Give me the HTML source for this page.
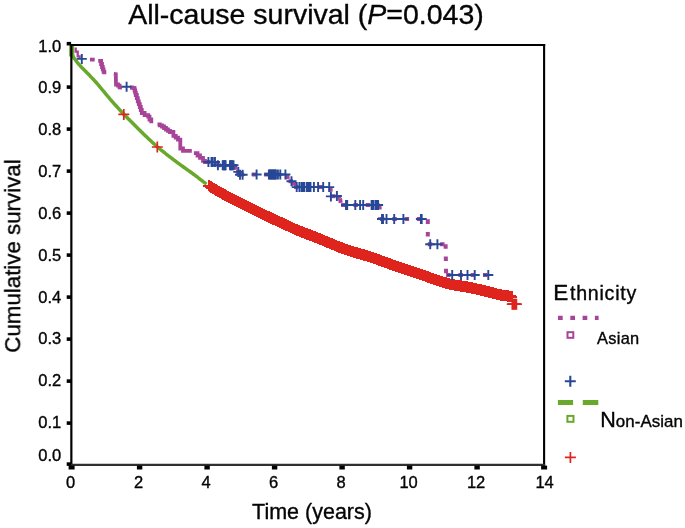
<!DOCTYPE html>
<html><head><meta charset="utf-8"><title>All-cause survival</title>
<style>
html,body{margin:0;padding:0;background:#fff}
svg{display:block}
text{font-family:"Liberation Sans",Arial,Helvetica,sans-serif;fill:#050505;stroke:#050505;stroke-width:.36px;will-change:transform;filter:grayscale(1)}
</style></head><body>
<svg width="685" height="528" viewBox="0 0 685 528">
<rect width="685" height="528" fill="#fff"/>
<defs>
<g id="pb"><path d="M-5 0H5M0 -5V5" stroke="#264896" stroke-width="1.9" fill="none"/></g>
<g id="pr"><path d="M-5.5 0H5.5M0 -5.5V5.5" stroke="#df241e" stroke-width="1.7" fill="none"/></g>
<g id="prc"><path d="M-5.5 0H5.5M0 -5.6V5.6" stroke="#df241e" stroke-width="1.8" fill="none" shape-rendering="crispEdges"/></g>
</defs>
<text x="306" y="24.2" font-size="28.5" text-anchor="middle">All-cause survival (<tspan font-style="italic">P</tspan>=0.043)</text>
<text transform="translate(20.2,256) rotate(-90)" font-size="22.3" text-anchor="middle">Cumulative survival</text>
<text x="312" y="519.3" font-size="21.5" text-anchor="middle">Time (years)</text>
<polyline fill="none" stroke="#68a82a" stroke-width="3.5" stroke-linejoin="round" points="71.5,45.0 72.5,55.0 73.5,57.2 74.5,58.7 75.5,60.0 76.5,61.4 77.5,62.7 78.5,63.9 79.5,65.1 80.5,66.1 81.5,67.2 82.5,68.2 83.5,69.2 84.5,70.2 85.5,71.2 86.5,72.3 87.5,73.3 88.5,74.3 89.5,75.3 90.5,76.4 91.5,77.4 92.5,78.5 93.5,79.5 94.5,80.6 95.5,81.7 96.5,82.8 97.5,84.0 98.5,85.2 99.5,86.4 100.5,87.6 101.5,88.8 102.5,90.0 103.5,91.2 104.5,92.4 105.5,93.6 106.5,94.8 107.5,96.0 108.5,97.2 109.5,98.4 110.5,99.6 111.5,100.7 112.5,101.9 113.5,103.0 114.5,104.1 115.5,105.2 116.5,106.3 117.5,107.4 118.5,108.5 119.5,109.6 120.5,110.7 121.5,111.8 122.5,112.8 123.5,113.9 124.5,114.9 125.5,116.0 126.5,117.0 127.5,118.0 128.5,119.1 129.5,120.1 130.5,121.1 131.5,122.1 132.5,123.1 133.5,124.1 134.5,125.1 135.5,126.1 136.5,127.1 137.5,128.1 138.5,129.0 139.5,130.0 140.5,131.0 141.5,132.0 142.5,132.9 143.5,133.9 144.5,134.9 145.5,135.9 146.5,136.8 147.5,137.8 148.5,138.8 149.5,139.7 150.5,140.6 151.5,141.6 152.5,142.5 153.5,143.4 154.5,144.3 155.5,145.2 156.5,146.1 157.5,147.0 158.5,147.8 159.5,148.7 160.5,149.5 161.5,150.3 162.5,151.1 163.5,151.9 164.5,152.7 165.5,153.5 166.5,154.3 167.5,155.1 168.5,155.9 169.5,156.6 170.5,157.4 171.5,158.1 172.5,158.9 173.5,159.7 174.5,160.4 175.5,161.2 176.5,161.9 177.5,162.7 178.5,163.4 179.5,164.1 180.5,164.9 181.5,165.6 182.5,166.3 183.5,167.0 184.5,167.7 185.5,168.4 186.5,169.2 187.5,169.9 188.5,170.6 189.5,171.3 190.5,172.0 191.5,172.7 192.5,173.5 193.5,174.2 194.5,174.9 195.5,175.7 196.5,176.4 197.5,177.2 198.5,178.0 199.5,178.8 200.5,179.6 201.5,180.3 202.5,181.1 203.5,181.9 204.5,182.6 205.5,183.4 206.5,184.1"/>
<path d="M71.7 45.5V56.5" stroke="#68a82a" stroke-width="5" fill="none"/>
<path d="M75.7 47.6V51.6H77.7V56.4H79.6V58.8" fill="none" stroke="#a74499" stroke-width="2.3"/>
<polyline fill="none" stroke="#a74499" stroke-width="3.8" stroke-linejoin="miter" stroke-linecap="butt" points="90.0,59.6 94.7,59.6"/>
<polyline fill="none" stroke="#a74499" stroke-width="3.8" stroke-linejoin="miter" stroke-linecap="butt" points="98.2,60.9 100.2,60.9 101.1,60.9 101.1,64.0 102.0,64.0 102.0,67.0 102.8,67.0 102.8,69.4 103.6,69.4 103.6,71.9 104.4,71.9 104.4,74.3"/>
<polyline fill="none" stroke="#a74499" stroke-width="3.8" stroke-linejoin="miter" stroke-linecap="butt" points="113.8,73.9 115.8,74.2 116.0,84.5 118.0,84.5 118.0,85.6 119.6,85.6 119.6,87.4 122.0,87.6"/>
<polyline fill="none" stroke="#a74499" stroke-width="3.8" stroke-linejoin="miter" stroke-linecap="butt" points="130.0,87.4 132.0,87.4 132.0,87.8 134.0,87.8 134.0,88.2 134.6,88.2 134.6,90.5 135.2,90.5 135.2,92.7 135.8,92.7 135.8,95.0 136.8,95.0 136.8,98.2 137.8,98.2 137.8,101.3 138.8,101.3 138.8,104.2 139.8,104.2 139.8,107.0 140.8,107.0 140.8,110.0 141.8,110.0 141.8,113.0 144.6,113.0 144.6,115.2 148.2,115.2 148.2,116.6 149.5,116.6 149.5,119.5 151.3,119.5 151.3,123.2"/>
<polyline fill="none" stroke="#a74499" stroke-width="3.8" stroke-linejoin="miter" stroke-linecap="butt" points="157.5,124.3 159.8,124.3 159.8,125.4 162.0,125.4 162.0,126.5 164.0,126.5 164.0,128.0 166.0,128.0 166.0,129.5 168.0,129.5 168.0,130.8 170.0,130.8 170.0,132.0 173.4,132.0 173.4,135.8 175.7,135.8 175.7,137.7 178.0,137.7 178.0,139.6 180.3,139.6 180.3,141.5 180.3,148.5 183.0,148.5 183.0,150.8 191.8,150.8"/>
<polyline fill="none" stroke="#a74499" stroke-width="3.8" stroke-linejoin="miter" stroke-linecap="butt" points="193.9,153.2 197.5,153.2 197.5,155.5 200.0,155.5 200.0,157.8 203.0,157.8 203.0,160.8 205.0,160.8 205.0,162.0 207.0,162.0"/>
<path d="M206.0 162.0L216.5 162.0" stroke="#a74499" stroke-width="4" stroke-dasharray="4.5 7.8" fill="none"/>
<path d="M216.5 162.0L216.5 165.3" stroke="#a74499" stroke-width="4" stroke-dasharray="4.5 7.8" fill="none"/>
<path d="M216.5 165.3L235.0 165.3" stroke="#a74499" stroke-width="4" stroke-dasharray="4.5 7.8" fill="none"/>
<path d="M235.0 165.3L236.0 171.9" stroke="#a74499" stroke-width="4" stroke-dasharray="4.5 7.8" fill="none"/>
<path d="M236.0 171.9L239.0 171.9" stroke="#a74499" stroke-width="4" stroke-dasharray="4.5 7.8" fill="none"/>
<path d="M239.0 171.9L239.5 174.6" stroke="#a74499" stroke-width="4" stroke-dasharray="4.5 7.8" fill="none"/>
<path d="M239.5 174.6L287.0 174.6" stroke="#a74499" stroke-width="4" stroke-dasharray="4.5 7.8" fill="none"/>
<path d="M287.0 174.6L288.5 181.2" stroke="#a74499" stroke-width="4" stroke-dasharray="4.5 7.8" fill="none"/>
<path d="M288.5 181.2L294.0 181.2" stroke="#a74499" stroke-width="4" stroke-dasharray="4.5 7.8" fill="none"/>
<path d="M294.0 181.2L294.0 187.1" stroke="#a74499" stroke-width="4" stroke-dasharray="4.5 7.8" fill="none"/>
<path d="M294.0 187.1L330.5 187.1" stroke="#a74499" stroke-width="4" stroke-dasharray="4.5 7.8" fill="none"/>
<path d="M330.5 187.1L331.0 196.2" stroke="#a74499" stroke-width="4" stroke-dasharray="4.5 7.8" fill="none"/>
<path d="M331.0 196.2L338.5 196.2" stroke="#a74499" stroke-width="4" stroke-dasharray="4.5 7.8" fill="none"/>
<path d="M338.5 196.2L340.0 198.4" stroke="#a74499" stroke-width="4" stroke-dasharray="4.5 7.8" fill="none"/>
<path d="M340.0 198.4L341.1 205.0" stroke="#a74499" stroke-width="4" stroke-dasharray="4.5 7.8" fill="none"/>
<path d="M341.1 205.0L379.5 205.0" stroke="#a74499" stroke-width="4" stroke-dasharray="4.5 7.8" fill="none"/>
<path d="M379.5 205.0L380.0 219.0" stroke="#a74499" stroke-width="4" stroke-dasharray="4.5 7.8" fill="none"/>
<path d="M380.0 219.0L427.8 219.0" stroke="#a74499" stroke-width="4" stroke-dasharray="4.5 7.8" fill="none"/>
<path d="M427.8 219.0L427.8 219.6" stroke="#a74499" stroke-width="4" stroke-dasharray="4.5 7.8" fill="none"/>
<path d="M427.8 219.6L427.8 244.2" stroke="#a74499" stroke-width="4" stroke-dasharray="4.5 7.8" fill="none"/>
<path d="M427.8 244.2L445.6 244.2" stroke="#a74499" stroke-width="4" stroke-dasharray="4.5 7.8" fill="none"/>
<path d="M445.6 244.2L446.1 275.0" stroke="#a74499" stroke-width="4" stroke-dasharray="4.5 7.8" fill="none"/>
<path d="M446.1 275.0L489.0 275.0" stroke="#a74499" stroke-width="4" stroke-dasharray="4.5 7.8" fill="none"/>
<use href="#prc" x="208.8" y="185.7"/><use href="#prc" x="209.8" y="186.4"/><use href="#prc" x="210.8" y="187.0"/><use href="#prc" x="211.8" y="187.6"/><use href="#prc" x="212.8" y="188.2"/><use href="#prc" x="213.8" y="188.8"/><use href="#prc" x="214.8" y="189.4"/><use href="#prc" x="215.8" y="190.0"/><use href="#prc" x="216.8" y="190.6"/><use href="#prc" x="217.8" y="191.1"/><use href="#prc" x="218.8" y="191.7"/><use href="#prc" x="219.8" y="192.3"/><use href="#prc" x="220.8" y="192.8"/><use href="#prc" x="221.8" y="193.4"/><use href="#prc" x="222.8" y="193.9"/><use href="#prc" x="223.8" y="194.5"/><use href="#prc" x="224.8" y="195.0"/><use href="#prc" x="225.8" y="195.5"/><use href="#prc" x="226.8" y="196.1"/><use href="#prc" x="227.8" y="196.6"/><use href="#prc" x="228.8" y="197.1"/><use href="#prc" x="229.8" y="197.7"/><use href="#prc" x="230.8" y="198.2"/><use href="#prc" x="231.8" y="198.7"/><use href="#prc" x="232.8" y="199.2"/><use href="#prc" x="233.8" y="199.7"/><use href="#prc" x="234.8" y="200.2"/><use href="#prc" x="235.8" y="200.7"/><use href="#prc" x="236.8" y="201.2"/><use href="#prc" x="237.8" y="201.7"/><use href="#prc" x="238.8" y="202.2"/><use href="#prc" x="239.8" y="202.7"/><use href="#prc" x="240.8" y="203.2"/><use href="#prc" x="241.8" y="203.7"/><use href="#prc" x="242.8" y="204.2"/><use href="#prc" x="243.8" y="204.7"/><use href="#prc" x="244.8" y="205.2"/><use href="#prc" x="245.8" y="205.7"/><use href="#prc" x="246.8" y="206.2"/><use href="#prc" x="247.8" y="206.7"/><use href="#prc" x="248.8" y="207.2"/><use href="#prc" x="249.8" y="207.7"/><use href="#prc" x="250.8" y="208.2"/><use href="#prc" x="251.8" y="208.7"/><use href="#prc" x="252.8" y="209.2"/><use href="#prc" x="253.8" y="209.7"/><use href="#prc" x="254.8" y="210.2"/><use href="#prc" x="255.8" y="210.7"/><use href="#prc" x="256.8" y="211.2"/><use href="#prc" x="257.8" y="211.7"/><use href="#prc" x="258.8" y="212.2"/><use href="#prc" x="259.8" y="212.7"/><use href="#prc" x="260.8" y="213.2"/><use href="#prc" x="261.8" y="213.7"/><use href="#prc" x="262.8" y="214.1"/><use href="#prc" x="263.8" y="214.6"/><use href="#prc" x="264.8" y="215.1"/><use href="#prc" x="265.8" y="215.6"/><use href="#prc" x="266.8" y="216.1"/><use href="#prc" x="267.8" y="216.5"/><use href="#prc" x="268.8" y="217.0"/><use href="#prc" x="269.8" y="217.5"/><use href="#prc" x="270.8" y="217.9"/><use href="#prc" x="271.8" y="218.4"/><use href="#prc" x="272.8" y="218.9"/><use href="#prc" x="273.8" y="219.3"/><use href="#prc" x="274.8" y="219.8"/><use href="#prc" x="275.8" y="220.3"/><use href="#prc" x="276.8" y="220.7"/><use href="#prc" x="277.8" y="221.2"/><use href="#prc" x="278.8" y="221.6"/><use href="#prc" x="279.8" y="222.1"/><use href="#prc" x="280.8" y="222.6"/><use href="#prc" x="281.8" y="223.0"/><use href="#prc" x="282.8" y="223.5"/><use href="#prc" x="283.8" y="224.0"/><use href="#prc" x="284.8" y="224.4"/><use href="#prc" x="285.8" y="224.9"/><use href="#prc" x="286.8" y="225.4"/><use href="#prc" x="287.8" y="225.8"/><use href="#prc" x="288.8" y="226.3"/><use href="#prc" x="289.8" y="226.8"/><use href="#prc" x="290.8" y="227.2"/><use href="#prc" x="291.8" y="227.7"/><use href="#prc" x="292.8" y="228.2"/><use href="#prc" x="293.8" y="228.6"/><use href="#prc" x="294.8" y="229.1"/><use href="#prc" x="295.8" y="229.5"/><use href="#prc" x="296.8" y="229.9"/><use href="#prc" x="297.8" y="230.4"/><use href="#prc" x="298.8" y="230.8"/><use href="#prc" x="299.8" y="231.2"/><use href="#prc" x="300.8" y="231.6"/><use href="#prc" x="301.8" y="232.0"/><use href="#prc" x="302.8" y="232.4"/><use href="#prc" x="303.8" y="232.8"/><use href="#prc" x="304.8" y="233.2"/><use href="#prc" x="305.8" y="233.5"/><use href="#prc" x="306.8" y="233.9"/><use href="#prc" x="307.8" y="234.3"/><use href="#prc" x="308.8" y="234.7"/><use href="#prc" x="309.8" y="235.0"/><use href="#prc" x="310.8" y="235.4"/><use href="#prc" x="311.8" y="235.8"/><use href="#prc" x="312.8" y="236.1"/><use href="#prc" x="313.8" y="236.5"/><use href="#prc" x="314.8" y="236.9"/><use href="#prc" x="315.8" y="237.3"/><use href="#prc" x="316.8" y="237.7"/><use href="#prc" x="317.8" y="238.1"/><use href="#prc" x="318.8" y="238.6"/><use href="#prc" x="319.8" y="239.0"/><use href="#prc" x="320.8" y="239.4"/><use href="#prc" x="321.8" y="239.8"/><use href="#prc" x="322.8" y="240.3"/><use href="#prc" x="323.8" y="240.7"/><use href="#prc" x="324.8" y="241.1"/><use href="#prc" x="325.8" y="241.6"/><use href="#prc" x="326.8" y="242.0"/><use href="#prc" x="327.8" y="242.4"/><use href="#prc" x="328.8" y="242.8"/><use href="#prc" x="329.8" y="243.2"/><use href="#prc" x="330.8" y="243.6"/><use href="#prc" x="331.8" y="244.0"/><use href="#prc" x="332.8" y="244.4"/><use href="#prc" x="333.8" y="244.8"/><use href="#prc" x="334.8" y="245.2"/><use href="#prc" x="335.8" y="245.6"/><use href="#prc" x="336.8" y="246.1"/><use href="#prc" x="337.8" y="246.5"/><use href="#prc" x="338.8" y="246.9"/><use href="#prc" x="339.8" y="247.3"/><use href="#prc" x="340.8" y="247.6"/><use href="#prc" x="341.8" y="248.0"/><use href="#prc" x="342.8" y="248.4"/><use href="#prc" x="343.8" y="248.8"/><use href="#prc" x="344.8" y="249.2"/><use href="#prc" x="345.8" y="249.5"/><use href="#prc" x="346.8" y="249.9"/><use href="#prc" x="347.8" y="250.3"/><use href="#prc" x="348.8" y="250.6"/><use href="#prc" x="349.8" y="250.9"/><use href="#prc" x="350.8" y="251.3"/><use href="#prc" x="351.8" y="251.6"/><use href="#prc" x="352.8" y="251.9"/><use href="#prc" x="353.8" y="252.2"/><use href="#prc" x="354.8" y="252.5"/><use href="#prc" x="355.8" y="252.8"/><use href="#prc" x="356.8" y="253.0"/><use href="#prc" x="357.8" y="253.3"/><use href="#prc" x="358.8" y="253.6"/><use href="#prc" x="359.8" y="253.9"/><use href="#prc" x="360.8" y="254.1"/><use href="#prc" x="361.8" y="254.4"/><use href="#prc" x="362.8" y="254.7"/><use href="#prc" x="363.8" y="255.0"/><use href="#prc" x="364.8" y="255.2"/><use href="#prc" x="365.8" y="255.5"/><use href="#prc" x="366.8" y="255.8"/><use href="#prc" x="367.8" y="256.1"/><use href="#prc" x="368.8" y="256.4"/><use href="#prc" x="369.8" y="256.7"/><use href="#prc" x="370.8" y="257.1"/><use href="#prc" x="371.8" y="257.4"/><use href="#prc" x="372.8" y="257.8"/><use href="#prc" x="373.8" y="258.1"/><use href="#prc" x="374.8" y="258.5"/><use href="#prc" x="375.8" y="258.9"/><use href="#prc" x="376.8" y="259.2"/><use href="#prc" x="377.8" y="259.6"/><use href="#prc" x="378.8" y="260.0"/><use href="#prc" x="379.8" y="260.3"/><use href="#prc" x="380.8" y="260.7"/><use href="#prc" x="381.8" y="261.1"/><use href="#prc" x="382.8" y="261.4"/><use href="#prc" x="383.8" y="261.8"/><use href="#prc" x="384.8" y="262.1"/><use href="#prc" x="385.8" y="262.5"/><use href="#prc" x="386.8" y="262.9"/><use href="#prc" x="387.8" y="263.2"/><use href="#prc" x="388.8" y="263.6"/><use href="#prc" x="389.8" y="264.0"/><use href="#prc" x="390.8" y="264.3"/><use href="#prc" x="391.8" y="264.7"/><use href="#prc" x="392.8" y="265.1"/><use href="#prc" x="393.8" y="265.4"/><use href="#prc" x="394.8" y="265.8"/><use href="#prc" x="395.8" y="266.1"/><use href="#prc" x="396.8" y="266.5"/><use href="#prc" x="397.8" y="266.8"/><use href="#prc" x="398.8" y="267.2"/><use href="#prc" x="399.8" y="267.5"/><use href="#prc" x="400.8" y="267.9"/><use href="#prc" x="401.8" y="268.2"/><use href="#prc" x="402.8" y="268.5"/><use href="#prc" x="403.8" y="268.9"/><use href="#prc" x="404.8" y="269.2"/><use href="#prc" x="405.8" y="269.5"/><use href="#prc" x="406.8" y="269.9"/><use href="#prc" x="407.8" y="270.2"/><use href="#prc" x="408.8" y="270.5"/><use href="#prc" x="409.8" y="270.8"/><use href="#prc" x="410.8" y="271.2"/><use href="#prc" x="411.8" y="271.5"/><use href="#prc" x="412.8" y="271.8"/><use href="#prc" x="413.8" y="272.1"/><use href="#prc" x="414.8" y="272.5"/><use href="#prc" x="415.8" y="272.8"/><use href="#prc" x="416.8" y="273.1"/><use href="#prc" x="417.8" y="273.5"/><use href="#prc" x="418.8" y="273.8"/><use href="#prc" x="419.8" y="274.1"/><use href="#prc" x="420.8" y="274.5"/><use href="#prc" x="421.8" y="274.8"/><use href="#prc" x="422.8" y="275.2"/><use href="#prc" x="423.8" y="275.5"/><use href="#prc" x="424.8" y="275.9"/><use href="#prc" x="425.8" y="276.3"/><use href="#prc" x="426.8" y="276.6"/><use href="#prc" x="427.8" y="277.0"/><use href="#prc" x="428.8" y="277.3"/><use href="#prc" x="429.8" y="277.7"/><use href="#prc" x="430.8" y="278.1"/><use href="#prc" x="431.8" y="278.4"/><use href="#prc" x="432.8" y="278.8"/><use href="#prc" x="433.8" y="279.1"/><use href="#prc" x="434.8" y="279.4"/><use href="#prc" x="435.8" y="279.8"/><use href="#prc" x="436.8" y="280.1"/><use href="#prc" x="437.8" y="280.4"/><use href="#prc" x="438.8" y="280.8"/><use href="#prc" x="439.8" y="281.1"/><use href="#prc" x="440.8" y="281.4"/><use href="#prc" x="441.8" y="281.8"/><use href="#prc" x="442.8" y="282.1"/><use href="#prc" x="443.8" y="282.4"/><use href="#prc" x="444.8" y="282.7"/><use href="#prc" x="445.8" y="283.0"/><use href="#prc" x="446.8" y="283.3"/><use href="#prc" x="447.8" y="283.6"/><use href="#prc" x="448.8" y="283.8"/><use href="#prc" x="449.8" y="284.1"/><use href="#prc" x="450.8" y="284.3"/><use href="#prc" x="451.8" y="284.5"/><use href="#prc" x="452.8" y="284.7"/><use href="#prc" x="453.8" y="284.9"/><use href="#prc" x="454.8" y="285.1"/><use href="#prc" x="455.8" y="285.2"/><use href="#prc" x="456.8" y="285.4"/><use href="#prc" x="457.8" y="285.6"/><use href="#prc" x="458.8" y="285.7"/><use href="#prc" x="459.8" y="285.9"/><use href="#prc" x="460.8" y="286.0"/><use href="#prc" x="461.8" y="286.2"/><use href="#prc" x="462.8" y="286.3"/><use href="#prc" x="463.8" y="286.5"/><use href="#prc" x="464.8" y="286.7"/><use href="#prc" x="465.8" y="286.8"/><use href="#prc" x="466.8" y="287.0"/><use href="#prc" x="467.8" y="287.2"/><use href="#prc" x="468.8" y="287.4"/><use href="#prc" x="469.8" y="287.6"/><use href="#prc" x="470.8" y="287.8"/><use href="#prc" x="471.8" y="288.0"/><use href="#prc" x="472.8" y="288.2"/><use href="#prc" x="473.8" y="288.4"/><use href="#prc" x="474.8" y="288.6"/><use href="#prc" x="475.8" y="288.9"/><use href="#prc" x="476.8" y="289.1"/><use href="#prc" x="477.8" y="289.3"/><use href="#prc" x="478.8" y="289.6"/><use href="#prc" x="479.8" y="289.8"/><use href="#prc" x="480.8" y="290.0"/><use href="#prc" x="481.8" y="290.3"/><use href="#prc" x="482.8" y="290.5"/><use href="#prc" x="483.8" y="290.8"/><use href="#prc" x="484.8" y="291.0"/><use href="#prc" x="485.8" y="291.3"/><use href="#prc" x="486.8" y="291.5"/><use href="#prc" x="487.8" y="291.8"/><use href="#prc" x="488.8" y="292.0"/><use href="#prc" x="489.8" y="292.3"/><use href="#prc" x="490.8" y="292.5"/><use href="#prc" x="491.8" y="292.8"/><use href="#prc" x="492.8" y="293.0"/><use href="#prc" x="493.8" y="293.3"/><use href="#prc" x="494.8" y="293.6"/><use href="#prc" x="495.8" y="293.9"/><use href="#prc" x="496.8" y="294.1"/><use href="#prc" x="497.8" y="294.4"/><use href="#prc" x="498.8" y="294.6"/><use href="#prc" x="499.8" y="294.8"/><use href="#prc" x="500.8" y="295.0"/><use href="#prc" x="501.8" y="295.2"/><use href="#prc" x="502.8" y="295.4"/><use href="#prc" x="503.8" y="295.5"/><use href="#prc" x="504.8" y="295.6"/><use href="#prc" x="505.8" y="295.8"/><use href="#prc" x="506.8" y="295.9"/><use href="#prc" x="507.8" y="296.0"/><use href="#prc" x="508.8" y="296.2"/><use href="#prc" x="509.8" y="296.3"/><use href="#prc" x="510.8" y="296.4"/><use href="#prc" x="511.8" y="296.6"/>
<use href="#pr" x="512.3" y="304.2"/><use href="#pr" x="513.3" y="304.2"/><use href="#pr" x="514.3" y="304.2"/><use href="#pr" x="515.3" y="304.2"/><use href="#pr" x="516.4" y="304.2"/><use href="#pr" x="123.8" y="114.4"/><use href="#pr" x="157.3" y="147.0"/>
<use href="#pb" x="81.8" y="58.9"/><use href="#pb" x="126.6" y="86.7"/><use href="#pb" x="208.4" y="162.0"/><use href="#pb" x="211.5" y="162.0"/><use href="#pb" x="212.8" y="162.0"/><use href="#pb" x="215.0" y="162.0"/><use href="#pb" x="217.9" y="165.3"/><use href="#pb" x="222.7" y="165.3"/><use href="#pb" x="223.5" y="165.3"/><use href="#pb" x="224.3" y="165.3"/><use href="#pb" x="225.1" y="165.3"/><use href="#pb" x="225.6" y="165.3"/><use href="#pb" x="230.0" y="165.3"/><use href="#pb" x="230.8" y="165.3"/><use href="#pb" x="231.6" y="165.3"/><use href="#pb" x="232.2" y="165.3"/><use href="#pb" x="233.5" y="165.3"/><use href="#pb" x="238.3" y="171.9"/><use href="#pb" x="240.0" y="174.7"/><use href="#pb" x="242.6" y="174.7"/><use href="#pb" x="256.6" y="174.5"/><use href="#pb" x="268.9" y="174.5"/><use href="#pb" x="269.8" y="174.5"/><use href="#pb" x="270.7" y="174.5"/><use href="#pb" x="271.6" y="174.5"/><use href="#pb" x="272.5" y="174.5"/><use href="#pb" x="273.4" y="174.5"/><use href="#pb" x="274.3" y="174.5"/><use href="#pb" x="275.2" y="174.5"/><use href="#pb" x="275.9" y="174.5"/><use href="#pb" x="277.9" y="174.5"/><use href="#pb" x="280.3" y="174.5"/><use href="#pb" x="285.4" y="174.5"/><use href="#pb" x="291.5" y="181.2"/><use href="#pb" x="296.7" y="187.1"/><use href="#pb" x="299.4" y="187.1"/><use href="#pb" x="301.5" y="187.1"/><use href="#pb" x="302.8" y="187.1"/><use href="#pb" x="303.6" y="187.1"/><use href="#pb" x="304.4" y="187.1"/><use href="#pb" x="307.0" y="187.1"/><use href="#pb" x="307.9" y="187.1"/><use href="#pb" x="308.8" y="187.1"/><use href="#pb" x="309.7" y="187.1"/><use href="#pb" x="310.5" y="187.1"/><use href="#pb" x="313.9" y="187.1"/><use href="#pb" x="318.1" y="187.1"/><use href="#pb" x="323.2" y="187.1"/><use href="#pb" x="329.2" y="187.1"/><use href="#pb" x="330.9" y="196.4"/><use href="#pb" x="336.9" y="196.0"/><use href="#pb" x="346.0" y="205.0"/><use href="#pb" x="347.2" y="205.0"/><use href="#pb" x="355.3" y="205.0"/><use href="#pb" x="360.1" y="205.0"/><use href="#pb" x="363.2" y="205.0"/><use href="#pb" x="371.6" y="205.0"/><use href="#pb" x="372.5" y="205.0"/><use href="#pb" x="373.3" y="205.0"/><use href="#pb" x="375.5" y="205.0"/><use href="#pb" x="376.4" y="205.0"/><use href="#pb" x="377.3" y="205.0"/><use href="#pb" x="378.1" y="205.0"/><use href="#pb" x="382.0" y="219.0"/><use href="#pb" x="383.0" y="219.0"/><use href="#pb" x="386.5" y="219.0"/><use href="#pb" x="394.2" y="219.0"/><use href="#pb" x="403.4" y="219.0"/><use href="#pb" x="420.9" y="219.0"/><use href="#pb" x="421.7" y="219.0"/><use href="#pb" x="430.2" y="244.2"/><use href="#pb" x="437.4" y="244.2"/><use href="#pb" x="452.2" y="275.0"/><use href="#pb" x="461.0" y="275.0"/><use href="#pb" x="467.5" y="275.0"/><use href="#pb" x="474.7" y="275.0"/><use href="#pb" x="488.3" y="275.0"/>
<path d="M71.35 44V465.7" stroke="#000" stroke-width="2.2" fill="none"/>
<path d="M70.9 45H545.2" stroke="#000" stroke-width="2" fill="none"/>
<path d="M544.1 44V465.6" stroke="#000" stroke-width="2.1" fill="none"/>
<path d="M70.9 464.85H545.2" stroke="#303030" stroke-width="2.1" fill="none"/>
<rect x="66.7" y="41.9" width="4.4" height="3.6" fill="#000"/><text x="61.2" y="52.0" font-size="16.5" text-anchor="end">1.0</text>
<rect x="66.7" y="85.3" width="4.4" height="3.6" fill="#000"/><text x="61.2" y="93.4" font-size="16.5" text-anchor="end">0.9</text>
<rect x="66.7" y="127.3" width="4.4" height="3.6" fill="#000"/><text x="61.2" y="135.3" font-size="16.5" text-anchor="end">0.8</text>
<rect x="66.7" y="169.3" width="4.4" height="3.6" fill="#000"/><text x="61.2" y="177.1" font-size="16.5" text-anchor="end">0.7</text>
<rect x="66.7" y="211.3" width="4.4" height="3.6" fill="#000"/><text x="61.2" y="218.9" font-size="16.5" text-anchor="end">0.6</text>
<rect x="66.7" y="253.3" width="4.4" height="3.6" fill="#000"/><text x="61.2" y="260.7" font-size="16.5" text-anchor="end">0.5</text>
<rect x="66.7" y="295.3" width="4.4" height="3.6" fill="#000"/><text x="61.2" y="302.5" font-size="16.5" text-anchor="end">0.4</text>
<rect x="66.7" y="337.3" width="4.4" height="3.6" fill="#000"/><text x="61.2" y="344.3" font-size="16.5" text-anchor="end">0.3</text>
<rect x="66.7" y="379.3" width="4.4" height="3.6" fill="#000"/><text x="61.2" y="386.1" font-size="16.5" text-anchor="end">0.2</text>
<rect x="66.7" y="421.3" width="4.4" height="3.6" fill="#000"/><text x="61.2" y="427.9" font-size="16.5" text-anchor="end">0.1</text>
<rect x="66.7" y="462.3" width="4.4" height="3.6" fill="#000"/><text x="61.2" y="461.1" font-size="16.5" text-anchor="end">0.0</text>
<rect x="68.6" y="465.6" width="6" height="3.9" fill="#000"/><text x="70.6" y="487.7" font-size="16.5" text-anchor="middle">0</text>
<rect x="136.9" y="465.6" width="5.4" height="3.9" fill="#000"/><text x="138.6" y="487.7" font-size="16.5" text-anchor="middle">2</text>
<rect x="204.4" y="465.6" width="5.4" height="3.9" fill="#000"/><text x="206.1" y="487.7" font-size="16.5" text-anchor="middle">4</text>
<rect x="271.9" y="465.6" width="5.4" height="3.9" fill="#000"/><text x="273.6" y="487.7" font-size="16.5" text-anchor="middle">6</text>
<rect x="339.4" y="465.6" width="5.4" height="3.9" fill="#000"/><text x="341.1" y="487.7" font-size="16.5" text-anchor="middle">8</text>
<rect x="406.9" y="465.6" width="5.4" height="3.9" fill="#000"/><text x="408.6" y="487.7" font-size="16.5" text-anchor="middle">10</text>
<rect x="474.4" y="465.6" width="5.4" height="3.9" fill="#000"/><text x="476.1" y="487.7" font-size="16.5" text-anchor="middle">12</text>
<rect x="541.1" y="465.6" width="6" height="3.9" fill="#000"/><text x="544.6" y="487.7" font-size="16.5" text-anchor="middle">14</text>
<text x="553.2" y="299.5" font-size="22.5">E<tspan font-size="19.6" dx="1.8" letter-spacing="0.75">thnicity</tspan></text>
<path d="M558 317.9H598.6" stroke="#a74499" stroke-width="4.2" stroke-dasharray="4.7 7.6" fill="none"/>
<rect x="567.5" y="332.2" width="5.8" height="5.6" fill="#fff" stroke="#a74499" stroke-width="2"/>
<text x="597" y="343.7" font-size="16.4" letter-spacing="0.3">Asian</text>
<use href="#pb" x="570.3" y="381.2" transform="translate(570.3 381.2) scale(1.1) translate(-570.3 -381.2)"/>
<path d="M557.9 402.4H573.1M582.8 402.4H598.3" stroke="#68a82a" stroke-width="5" fill="none"/>
<rect x="567.4" y="415.9" width="6.1" height="5.9" fill="#fff" stroke="#68a82a" stroke-width="2"/>
<text x="600.3" y="426.6" font-size="21.5">N<tspan font-size="16.9" letter-spacing="0.05">on-Asian</tspan></text>
<use href="#pr" x="570.4" y="457.4"/>
</svg>
</body></html>
